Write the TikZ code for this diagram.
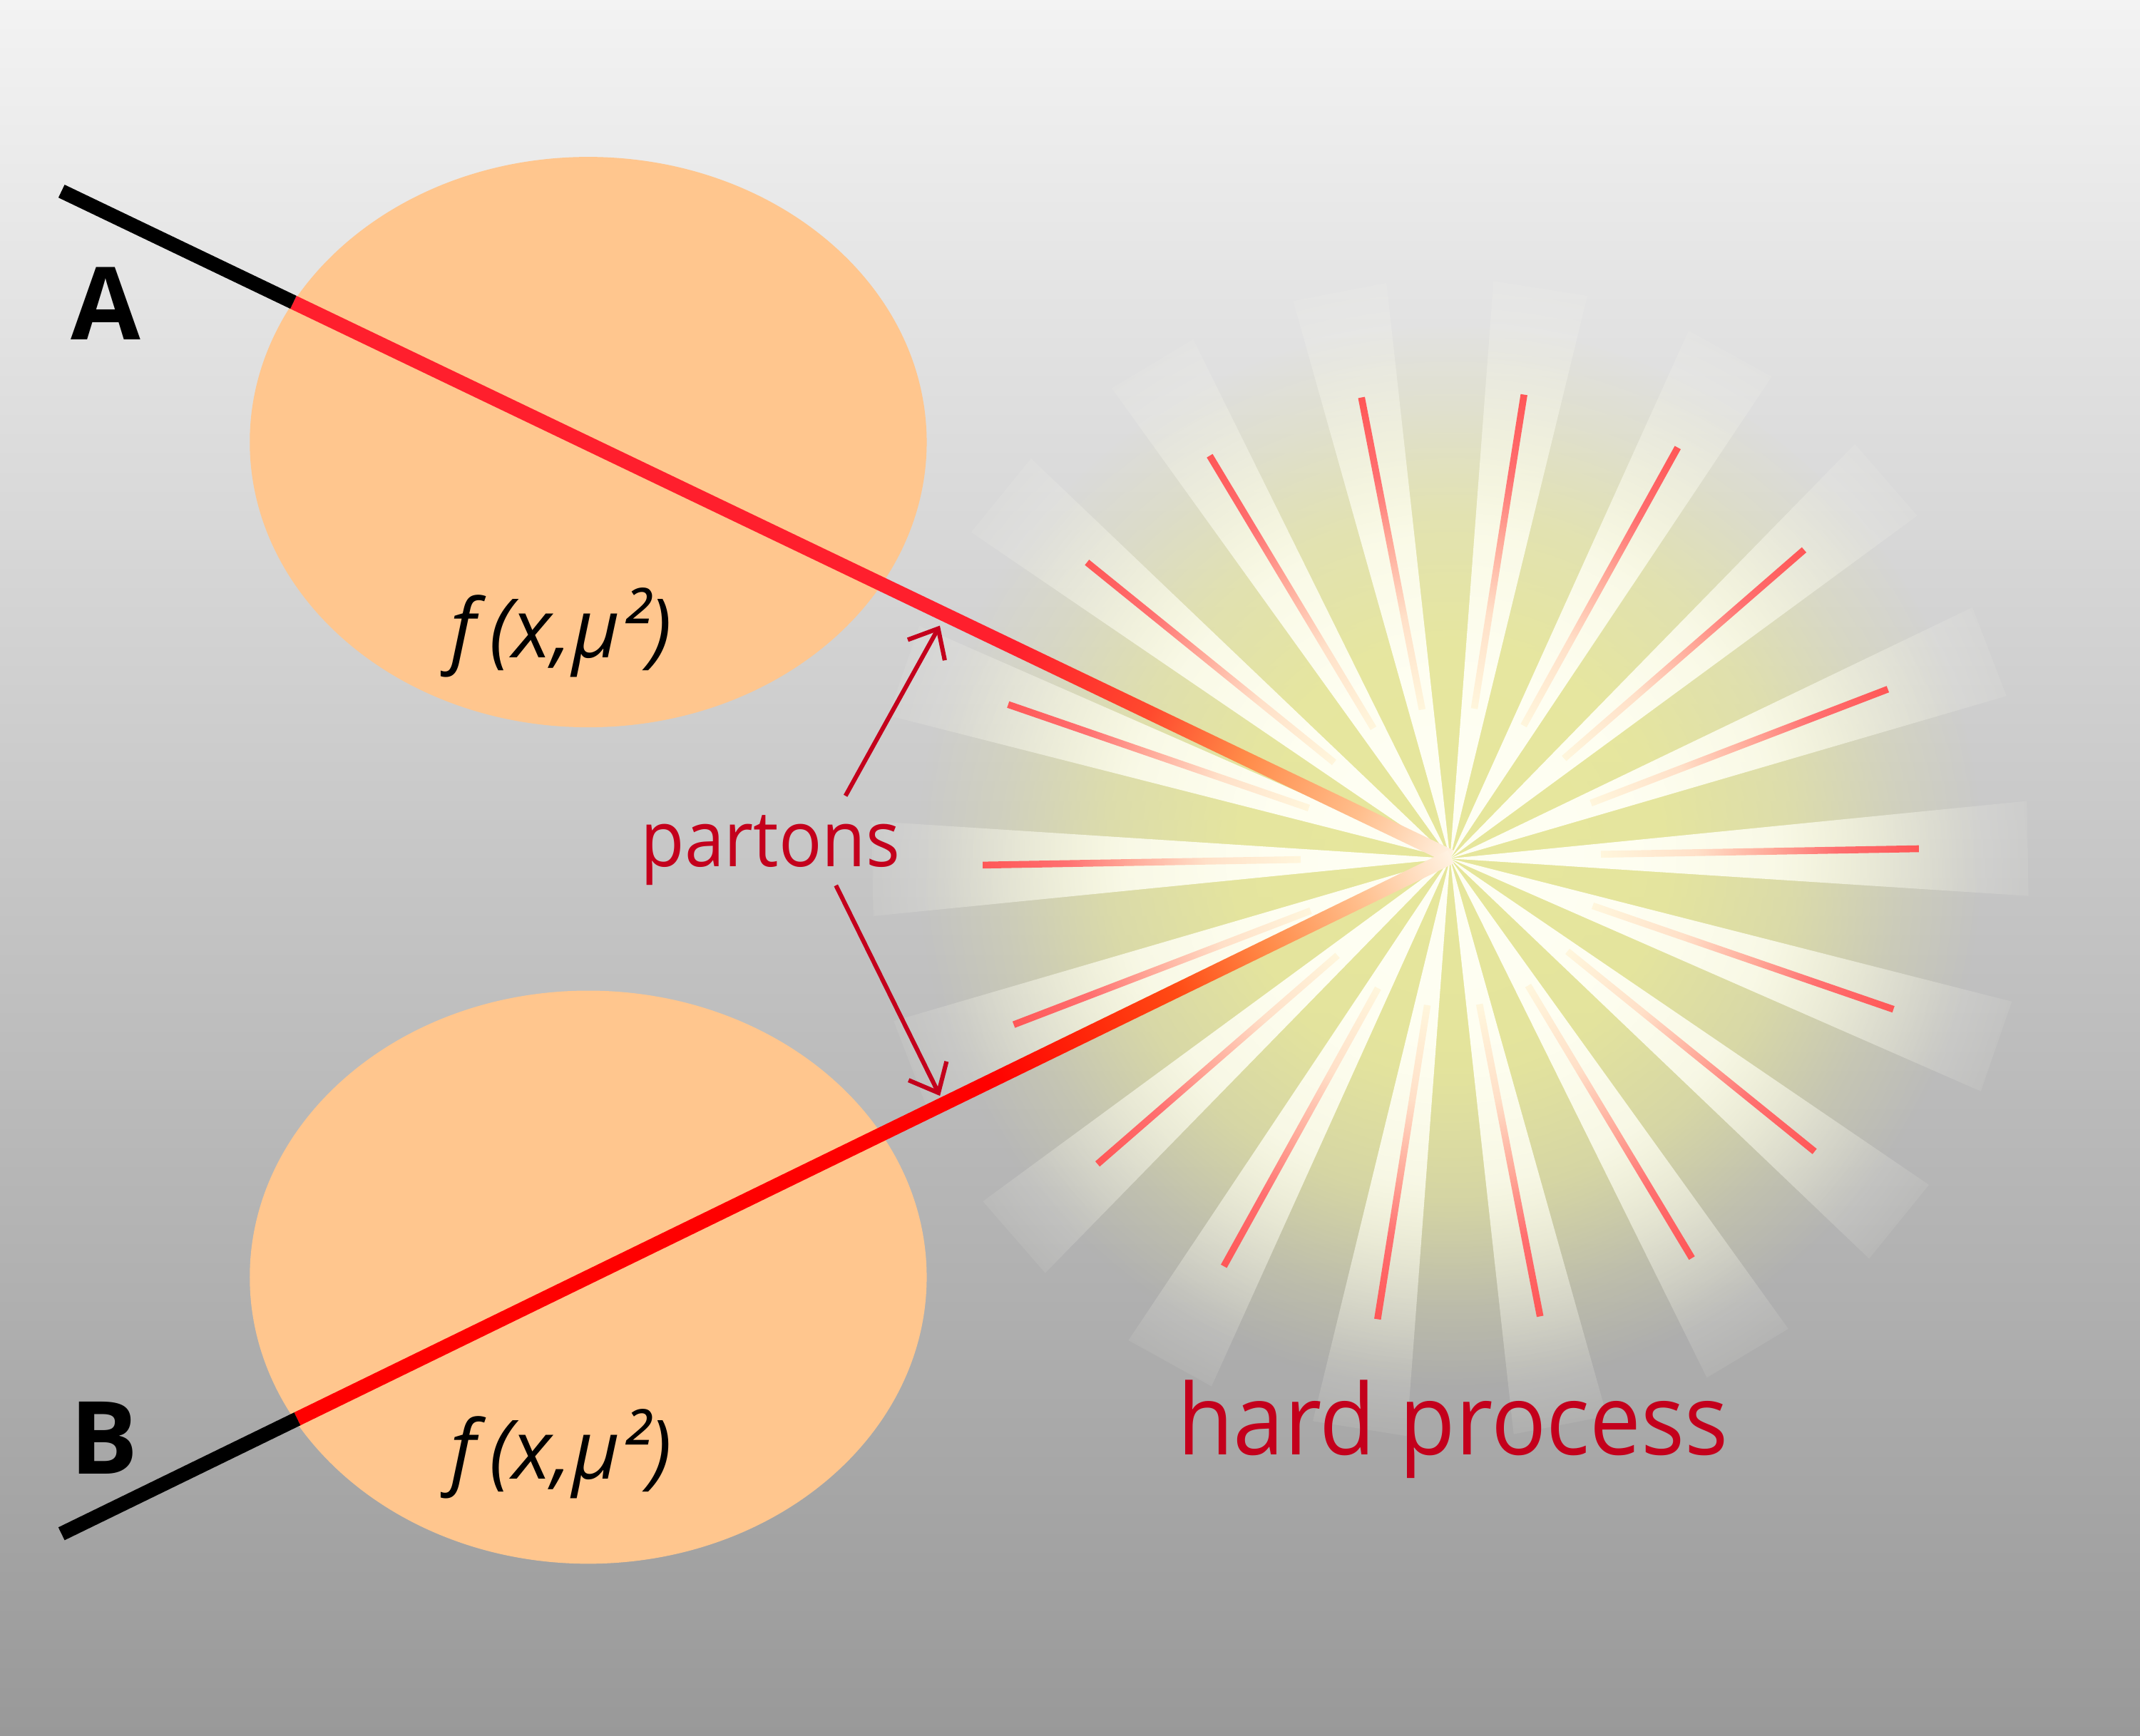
\documentclass[tikz,border=0pt]{standalone}
\usepackage{graphicx}
\usepackage{fontspec}
\setmainfont{Open Sans}
\usetikzlibrary{arrows.meta,calc,fadings}

\definecolor{bgtop}{HTML}{F3F3F3}
\definecolor{bgbottom}{HTML}{999999}
\definecolor{pdfpeach}{HTML}{FFC68E}
\definecolor{labelred}{HTML}{C4001C}
\definecolor{glowyellow}{HTML}{EAEA98}
\definecolor{wedgewhite}{HTML}{FFFFF4}
\definecolor{raycream}{HTML}{FFF6DC}
\definecolor{raypeach}{HTML}{FFE0C8}
\definecolor{raypink}{HTML}{FFA898}
\definecolor{raymid}{HTML}{FF7070}
\definecolor{rayred}{HTML}{FF5757}
\definecolor{beamwhite}{HTML}{FFF2E2}
\definecolor{beampeach}{HTML}{FFBE8C}
\definecolor{beamorange}{HTML}{FF8A48}
\definecolor{beamAmid}{HTML}{FF4A2E}
\definecolor{beamAred}{HTML}{FF1F2D}
\definecolor{beamBmid}{HTML}{FF4A14}
\definecolor{beamBred}{HTML}{FF0000}

% soft edges of the burst
\pgfdeclareradialshading{wedgeshade}{\pgfpointorigin}{gray(0bp)=(1); gray(8bp)=(0.97); gray(14bp)=(0.82); gray(19bp)=(0.45); gray(22bp)=(0.22); gray(25bp)=(0.08); gray(50bp)=(0.08)}
\pgfdeclarefading{wedgefade}{\pgfuseshading{wedgeshade}}
\pgfdeclareradialshading{glowshade}{\pgfpointorigin}{gray(0bp)=(0.92); gray(10bp)=(0.86); gray(16bp)=(0.6); gray(21bp)=(0.22); gray(25bp)=(0); gray(50bp)=(0)}
\pgfdeclarefading{glowfade}{\pgfuseshading{glowshade}}

% colour runs along rays and beams
\pgfdeclarehorizontalshading{rayshade}{100bp}{color(0bp)=(raycream); color(25bp)=(raycream); color(40bp)=(raypeach); color(52bp)=(raypink); color(62bp)=(raymid); color(75bp)=(rayred); color(100bp)=(rayred)}
\pgfdeclarehorizontalshading{beamAshade}{100bp}{color(0bp)=(beamwhite); color(25bp)=(beamwhite); color(29bp)=(beampeach); color(34bp)=(beamorange); color(38bp)=(beamAmid); color(44bp)=(beamAred); color(100bp)=(beamAred)}
\pgfdeclarehorizontalshading{beamBshade}{100bp}{color(0bp)=(beamwhite); color(25bp)=(beamwhite); color(29bp)=(beampeach); color(33bp)=(beamorange); color(37bp)=(beamBmid); color(45bp)=(beamBred); color(100bp)=(beamBred)}

\tikzset{
  hadron/.style={anchor=base, inner sep=0pt, font=\fontsize{74}{74}\selectfont\bfseries},
  pdftext/.style={anchor=base, inner sep=0pt, font=\fontsize{60}{60}\selectfont\itshape},
  redtext/.style={anchor=base, inner sep=0pt, text=labelred},
  partonarrow/.style={draw=labelred, line width=3.2, -{Straight Barb[length=18pt,width=31pt]}},
}

\begin{document}
\begin{tikzpicture}[x=1pt,y=-1pt]
  \useasboundingbox (0,0) rectangle (1568,1272);
  \shade[top color=bgtop, bottom color=bgbottom] (0,0) rectangle (1568,1272);

  \coordinate (hit) at (1063,628);

  % proton blobs
  \fill[pdfpeach] (431,324) ellipse [x radius=248, y radius=209];
  \fill[pdfpeach] (431,936) ellipse [x radius=248, y radius=210];

  % hard process burst
  \fill[glowyellow, path fading=glowfade] (hit) circle (390);
  \fill[wedgewhite, path fading=wedgefade]
    \foreach \a in {-1,-21,...,-341}{ (hit) -- +(\a+4.7:425) -- +(\a-4.7:425) -- cycle };
  \foreach \a in {1,21,...,341}
    \shade[shading=rayshade, transform canvas={rotate around={\a:(hit)}}]
      ($(hit)+(110,-2.5)$) rectangle ($(hit)+(343,2.5)$);

  % incoming beams
  \begin{scope}[transform canvas={rotate around={154.39:(hit)}}]
    \shade[shading=beamAshade] ($(hit)+(0,-5.25)$) rectangle ($(hit)+(940.5,5.25)$);
    \fill[black] ($(hit)+(940.5,-5.25)$) rectangle ($(hit)+(1128.9,5.25)$);
  \end{scope}
  \begin{scope}[transform canvas={rotate around={205.98:(hit)}}]
    \shade[shading=beamBshade] ($(hit)+(0,-5.25)$) rectangle ($(hit)+(940.2,5.25)$);
    \fill[black] ($(hit)+(940.2,-5.25)$) rectangle ($(hit)+(1132.4,5.25)$);
  \end{scope}

  % labels
  \node[hadron] (labA) at (77.5,249) {A};
  \node[hadron] (labB) at (76.5,1080) {B};
  \node[pdftext] (pdfA) at (411,482) {f\,(x,μ²)};
  \node[pdftext] (pdfB) at (411,1084) {f\,(x,μ²)};
  \node[redtext, font=\fontsize{57}{57}\selectfont] (partons) at (564.5,635) {\scalebox{0.92}[1]{partons}};
  \node[redtext, font=\fontsize{72}{72}\selectfont] (hard) at (1064.5,1066) {\scalebox{0.93}[1]{hard process}};

  \coordinate (tipA) at (688.6,458.5);
  \coordinate (tipB) at (688.7,803.1);
  \draw[partonarrow] ([xshift=55pt,yshift=14pt]partons.north) -- (tipA);
  \draw[partonarrow] ([xshift=48pt]partons.south) -- (tipB);
\end{tikzpicture}
\end{document}
